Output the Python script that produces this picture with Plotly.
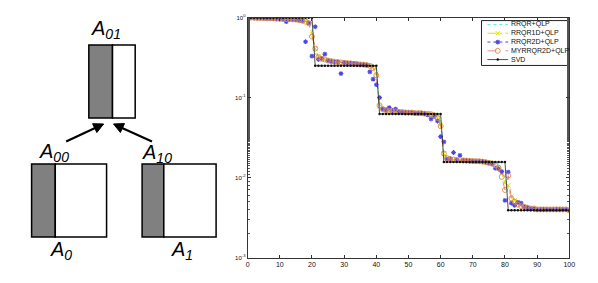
import math
import plotly.graph_objects as go

W, H = 598, 283

idx = list(range(1, 101))

svd = [1.0]*20 + [0.25]*20 + [0.0625]*20 + [0.015625]*20 + [0.00390625]*20

rrqr = [1.0,1.0,0.99,0.99,0.99,0.98,0.98,0.98,0.97,0.97,0.97,0.96,0.96,0.95,0.95,0.94,0.93,0.91,0.88,0.75,
        0.35,0.31,0.30,0.295,0.29,0.285,0.28,0.28,0.275,0.275,0.27,0.27,0.268,0.265,0.262,0.26,0.258,0.255,0.25,0.23,
        0.085,0.072,0.069,0.068,0.067,0.067,0.066,0.066,0.066,0.065,0.065,0.065,0.064,0.064,0.064,0.063,0.063,0.062,0.059,0.051,
        0.021,0.0178,0.0172,0.0169,0.0167,0.0166,0.0165,0.0164,0.0163,0.0163,0.0162,0.0161,0.016,0.0159,0.0157,0.0154,0.015,0.0145,0.013,0.0095,
        0.0075,0.0055,0.005,0.0047,0.0045,0.0043,0.0042,0.0041,0.0041,0.0040,0.0040,0.0040,0.0040,0.0040,0.0040,0.0040,0.0040,0.0040,0.0040,0.0039]

rrqr1d = [1.0,1.0,0.99,0.99,0.99,0.98,0.98,0.97,0.97,0.97,0.96,0.96,0.95,0.95,0.94,0.94,0.92,0.90,0.86,0.62,
          0.41,0.33,0.31,0.30,0.295,0.29,0.285,0.28,0.28,0.275,0.272,0.27,0.268,0.265,0.262,0.26,0.257,0.25,0.24,0.20,
          0.078,0.071,0.069,0.068,0.067,0.066,0.066,0.066,0.065,0.065,0.065,0.064,0.064,0.064,0.063,0.063,0.062,0.061,0.057,0.046,
          0.020,0.0176,0.017,0.0168,0.0166,0.0165,0.0164,0.0163,0.0162,0.0162,0.0161,0.016,0.0159,0.0157,0.0155,0.0151,0.0146,0.0136,0.0115,0.0085,
          0.0080,0.0058,0.0052,0.0050,0.0046,0.0044,0.0042,0.0041,0.0041,0.0040,0.0040,0.0040,0.0040,0.0040,0.0040,0.0040,0.0040,0.0040,0.0040,0.0039]

rrqr2d = [1.0,0.99,0.99,0.99,0.98,0.98,0.98,0.97,0.97,0.96,0.96,0.89,0.95,0.95,0.94,0.93,0.91,0.50,0.86,0.33,
          0.77,0.30,0.31,0.35,0.29,0.285,0.28,0.28,0.20,0.275,0.27,0.27,0.268,0.265,0.26,0.258,0.255,0.21,0.17,0.145,
          0.10,0.072,0.070,0.075,0.069,0.072,0.067,0.066,0.066,0.065,0.065,0.064,0.064,0.064,0.063,0.061,0.054,0.058,0.051,0.0325,
          0.028,0.0170,0.0172,0.0206,0.0166,0.019,0.0164,0.0163,0.0162,0.0161,0.0161,0.016,0.0159,0.0156,0.0152,0.0147,0.0131,0.0128,0.0119,0.0052,
          0.0117,0.0048,0.0045,0.0049,0.0048,0.0043,0.0042,0.0041,0.0041,0.0040,0.0040,0.0040,0.0040,0.0040,0.0040,0.0040,0.0040,0.0040,0.0040,0.0039]

myrrqr2d = [1.0,1.0,0.99,0.99,0.99,0.98,0.98,0.98,0.97,0.97,0.96,0.96,0.96,0.95,0.95,0.93,0.92,0.89,0.85,0.58,
            0.41,0.32,0.305,0.30,0.29,0.285,0.28,0.278,0.275,0.272,0.27,0.268,0.265,0.262,0.26,0.258,0.255,0.25,0.235,0.19,
            0.08,0.072,0.070,0.068,0.067,0.067,0.066,0.066,0.065,0.065,0.065,0.064,0.064,0.064,0.063,0.063,0.062,0.060,0.056,0.044,
            0.020,0.0175,0.0170,0.0168,0.0166,0.0165,0.0164,0.0163,0.0162,0.0161,0.016,0.016,0.0158,0.0156,0.0153,0.015,0.0143,0.0132,0.0102,0.0070,
            0.0106,0.0055,0.0050,0.0046,0.0044,0.0043,0.0042,0.0041,0.0041,0.0040,0.0040,0.0040,0.0040,0.0040,0.0040,0.0040,0.0040,0.0040,0.0040,0.0039]

series_names = ["RRQR+QLP", "RRQR1D+QLP", "RRQR2D+QLP", "MYRRQR2D+QLP", "SVD"]
x_ticks = [0, 10, 20, 30, 40, 50, 60, 70, 80, 90, 100]
y_ticks = [1e-3, 1e-2, 1e-1, 1e0]
y_tick_text = ["10<sup>-3</sup>", "10<sup>-2</sup>", "10<sup>-1</sup>", "10<sup>0</sup>"]

FONT = "Liberation Sans, Arial, sans-serif"

styles = [
    dict(mode="lines", line=dict(color="#66e8f0", width=1, dash="dot"), marker=dict(size=1)),
    dict(mode="lines+markers", line=dict(color="#d8e000", width=1, dash="dashdot"),
         marker=dict(symbol="x-thin-open", size=4, color="#d8e000", line=dict(color="#d8e000", width=1))),
    dict(mode="markers", line=dict(color="#4a44ee", width=1, dash="dot"),
         marker=dict(symbol="asterisk-open", size=4, color="#4a44ee", line=dict(color="#4a44ee", width=1.1))),
    dict(mode="lines+markers", line=dict(color="#e87070", width=0.8, dash="dash"),
         marker=dict(symbol="circle-open", size=5, color="#dc8a48", line=dict(color="#dc8a48", width=0.9))),
    dict(mode="lines+markers", line=dict(color="#222222", width=0.8),
         marker=dict(symbol="circle", size=2.5, color="#111111")),
]
data = [rrqr, rrqr1d, rrqr2d, myrrqr2d, svd]

fig = go.Figure()
for name, vals, st in zip(series_names, data, styles):
    fig.add_trace(go.Scatter(x=idx, y=vals, name=name, showlegend=False,
                             xaxis="x", yaxis="y", **st))

def px(x):
    return x / W

def py(y):
    return 1 - y / H

fig.update_layout(
    width=W, height=H,
    margin=dict(l=0, r=0, t=0, b=0),
    paper_bgcolor="white", plot_bgcolor="rgba(0,0,0,0)",
    showlegend=False,
    xaxis=dict(domain=[px(249), px(575)], range=[0, 100], tickvals=x_ticks,
               ticks="inside", ticklen=3, tickcolor="#333", showline=True, linecolor="#333",
               linewidth=1, mirror="ticks", showgrid=False, zeroline=False,
               tickfont=dict(family=FONT, size=7, color="#111")),
    yaxis=dict(domain=[py(260), py(14)], type="log", range=[-3, 0], tickvals=y_ticks,
               ticktext=y_tick_text, ticks="inside", ticklen=3, tickcolor="#333",
               showline=True, linecolor="#333", linewidth=1, mirror="ticks",
               showgrid=False, zeroline=False,
               minor=dict(ticks="inside", ticklen=2, tickcolor="#555", showgrid=False),
               tickfont=dict(family=FONT, size=6, color="#111")),
    xaxis2=dict(domain=[0, 1], range=[0, W], visible=False, anchor="y2",
                showticklabels=False, ticks=""),
    yaxis2=dict(domain=[0, 1], range=[H, 0], visible=False, anchor="x2",
                showticklabels=False, ticks=""),
)

# hand-built legend (compact, like the original)
LEG_X0, LEG_Y0, LEG_X1, LEG_Y1 = 486, 17, 574, 63
fig.add_shape(type="rect", xref="paper", yref="paper",
              x0=px(LEG_X0), x1=px(LEG_X1), y0=py(LEG_Y1), y1=py(LEG_Y0),
              line=dict(color="#222", width=1), fillcolor="white", layer="below")
row_y = [21, 30, 39, 48, 57]
for name, st, ry in zip(series_names, styles, row_y):
    fig.add_trace(go.Scatter(x=[492, 513], y=[ry, ry], mode="lines", line=dict(st["line"]),
                             xaxis="x2", yaxis="y2", showlegend=False, hoverinfo="skip"))
    if "markers" in st["mode"]:
        fig.add_trace(go.Scatter(x=[502.5], y=[ry], mode="markers", marker=st["marker"],
                                 xaxis="x2", yaxis="y2", showlegend=False, hoverinfo="skip"))
    fig.add_annotation(xref="paper", yref="paper", x=px(515), y=py(ry),
                       xanchor="left", yanchor="middle", showarrow=False, text=name,
                       font=dict(family=FONT, size=7, color="#111"), borderpad=0)

# left diagram: rectangles
def rect(x0, y0, x1, y1, fill):
    fig.add_shape(type="rect", xref="paper", yref="paper",
                  x0=px(x0), x1=px(x1), y0=py(y1), y1=py(y0),
                  line=dict(color="black", width=1.5), fillcolor=fill, layer="above")

rect(88, 42, 112, 117, "#808080")
rect(112, 42, 135, 117, "white")
rect(30, 164, 54, 239, "#808080")
rect(54, 164, 106, 239, "white")
rect(142, 164, 164, 239, "#808080")
rect(164, 164, 217, 239, "white")

# arrows as line + triangular head
for (tx, ty, sx, sy) in [(103, 123, 65, 141), (113, 123, 152, 141)]:
    dx, dy = tx - sx, ty - sy
    L = math.hypot(dx, dy)
    ux, uy = dx / L, dy / L
    hl, hw = 10, 5
    bx, by = tx - hl * ux, ty - hl * uy
    nx, ny = -uy, ux
    fig.add_shape(type="line", xref="paper", yref="paper",
                  x0=px(sx), y0=py(sy), x1=px(bx + ux), y1=py(by + uy),
                  line=dict(color="black", width=2.2))
    pts = [(tx, ty), (bx + hw * nx, by + hw * ny), (bx - hw * nx, by - hw * ny)]
    path = "M %f %f L %f %f L %f %f Z" % tuple(v for p in pts for v in (px(p[0]), py(p[1])))
    fig.add_shape(type="path", xref="paper", yref="paper", path=path,
                  fillcolor="black", line=dict(color="black", width=1))

labels = [("A", "01", 89, 40), ("A", "00", 36, 166), ("A", "10", 141, 167),
          ("A", "0", 48, 267), ("A", "1", 170, 267)]
for (a, sub, lx, ly) in labels:
    fig.add_annotation(xref="paper", yref="paper", x=px(lx), y=py(ly),
                       xanchor="left", yanchor="bottom", showarrow=False,
                       text="<i>%s<sub>%s</sub></i>" % (a, sub),
                       font=dict(family=FONT, size=20, color="black"),
                       borderpad=0)

fig.write_html("out.html", config={"displayModeBar": False})
